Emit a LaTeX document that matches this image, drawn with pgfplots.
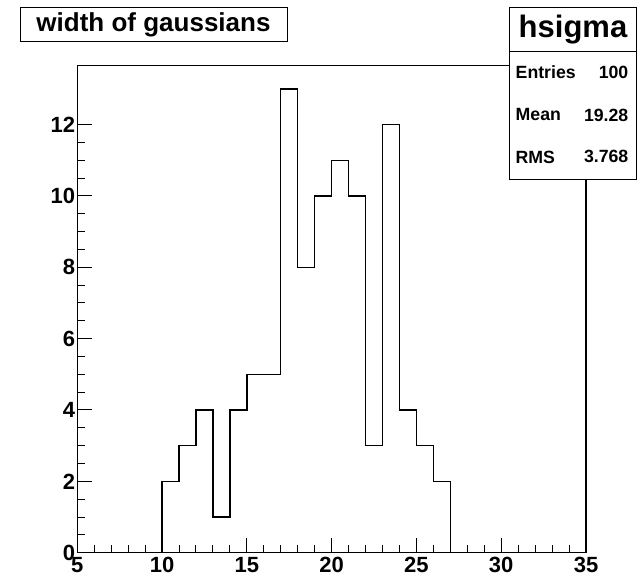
\documentclass[border=0pt]{standalone}
\usepackage{fontspec}
\setmainfont{Liberation Sans}
\usepackage{pgfplots}
\pgfplotsset{compat=1.18}
\usepackage{pgfplotstable}

% hsigma: bin low edge and count (bin width 1); last row closes the outline
\pgfplotstableread{
lo  n
10  0
10  2
11  3
12  4
13  1
14  4
15  5
16  5
17  13
18  8
19  10
20  11
21  10
22  3
23  12
24  4
25  3
26  2
27  0
}\hsigma

\begin{document}
\begin{tikzpicture}[x=1pt,y=1pt]
\path[use as bounding box] (0,0) rectangle (643,578);
\begin{axis}[
  at={(77.3pt,25.3pt)}, anchor=south west,
  scale only axis, width=508.7pt, height=487pt,
  xmin=5, xmax=35, ymin=0, ymax=13.65,
  xtick={5,10,...,35}, ytick={0,2,...,12},
  minor x tick num=4, minor y tick num=3,
  xtick pos=bottom, ytick pos=left,
  tick align=inside,
  major tick length=15pt, minor tick length=7.5pt,
  every tick/.style={black, line width=1pt},
  axis line style={line width=1.2pt},
  /pgf/number format/assume math mode=true,
  tick label style={font=\fontsize{22}{26}\selectfont\bfseries},
  yticklabel style={inner xsep=2pt},
  xticklabel style={inner ysep=4pt},
]
\addplot[const plot mark left, black, line width=1.4pt] table[x=lo, y=n] {\hsigma};
\end{axis}

% title box
\draw[line width=1pt, fill=white] (20,536) rectangle (287,570);
\node[font=\fontsize{26}{30}\selectfont\bfseries] at (153.5,553) {width of gaussians};

% statistics box
\draw[line width=1pt, fill=white] (509.3,398) rectangle (636.7,570.7);
\draw[line width=1pt] (509.3,526.3) -- (636.7,526.3);
\node[font=\fontsize{31}{34}\selectfont\bfseries] at (573,548.5) {hsigma};
\begin{scope}[font=\fontsize{17.7}{20}\selectfont\bfseries]
\node[anchor=west, inner sep=0pt] at (515.5,506) {Entries};
\node[anchor=east, inner sep=0pt] at (628.5,506) {100};
\node[anchor=west, inner sep=0pt] at (515.5,463) {Mean};
\node[anchor=east, inner sep=0pt] at (628.5,463) {19.28};
\node[anchor=west, inner sep=0pt] at (515.5,420.5) {RMS};
\node[anchor=east, inner sep=0pt] at (628.5,421.5) {3.768};
\end{scope}
\end{tikzpicture}
\end{document}
